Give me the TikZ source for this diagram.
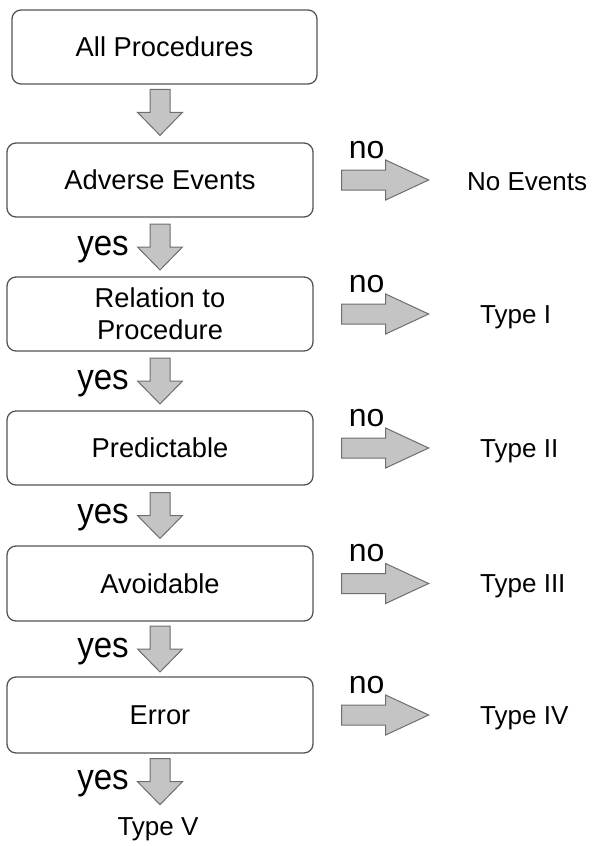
\documentclass[tikz,border=0pt]{standalone}
\usepackage{fontspec}
\setmainfont{Liberation Sans}
\usetikzlibrary{calc}
\definecolor{arrowfill}{HTML}{C4C4C4}
\definecolor{edgegray}{HTML}{555555}
\tikzset{
  box/.style={draw=edgegray, line width=1.3pt, rounded corners=9pt,
    minimum width=306pt, minimum height=74pt, inner sep=0pt, align=center,
    font=\fontsize{27.3}{32}\selectfont},
  lab/.style={font=\fontsize{26}{30}\selectfont, inner sep=0pt},
  yeslab/.style={font=\fontsize{36}{40}\selectfont, inner sep=0pt},
  nolab/.style={font=\fontsize{32}{36}\selectfont, inner sep=0pt},
  blk/.style={fill=arrowfill, draw=edgegray!85, line width=1pt, line join=miter},
  darrow/.pic={\draw[blk] (-10,-23) -- (10,-23) -- (10,0) -- (22.5,0) -- (0,23) -- (-22.5,0) -- (-10,0) -- cycle;},
  rarrow/.pic={\draw[blk] (0,-10) -- (44,-10) -- (44,-20) -- (87,0) -- (44,20) -- (44,10) -- (0,10) -- cycle;},
}
\begin{document}
\begin{tikzpicture}[x=1pt,y=-1pt]
\useasboundingbox (0,0) rectangle (592,846);
% boxes
\node[box, minimum width=305pt] (b1) at (164.5,47) {All Procedures};
\node[box] (b2) at (160,180) {Adverse Events};
\node[box] (b3) at (160,314) {Relation to\\Procedure};
\node[box] (b4) at (160,448) {Predictable};
\node[box, minimum height=75pt] (b5) at (160,583.5) {Avoidable};
\node[box, minimum height=76pt] (b6) at (160,715) {Error};
% down-arrow positions
\coordinate (a1) at ($(b2.north)+(0,-30)$);
\coordinate (a2) at ($(b2.south)!0.5!(b3.north)$);
\coordinate (a3) at ($(b3.south)!0.5!(b4.north)$);
\coordinate (a4) at ($(b4.south)!0.5!(b5.north)$);
\coordinate (a5) at ($(b5.south)!0.5!(b6.north)$);
\coordinate (a6) at ($(b6.south)+(0,28)$);
\foreach \a in {a1,a2,a3,a4,a5,a6} { \pic at (\a) {darrow}; }
% yes labels
\foreach \a in {a2,a3,a4,a5,a6} {
  \node[yeslab, anchor=base east] (yes-\a) at ($(\a)+(-31,8)$) {\scalebox{0.92}[1]{yes}};
}
% right arrows and no labels
\foreach \b in {b2,b3,b4,b5,b6} {
  \pic at ($(\b.east)+(28,0)$) {rarrow};
  \node[nolab, anchor=base west] (no-\b) at ($(\b.east)+(35,-22)$) {no};
}
% outcome labels
\node[lab, anchor=base west] (t0) at ($(b2.center)+(307,10)$) {No Events};
\node[lab, anchor=base west] (t1) at ($(b3.center)+(320,9)$) {Type I};
\node[lab, anchor=base west] (t2) at ($(b4.center)+(320,9)$) {Type II};
\node[lab, anchor=base west] (t3) at ($(b5.center)+(320,9)$) {Type III};
\node[lab, anchor=base west] (t4) at ($(b6.center)+(320,9)$) {Type IV};
\node[lab, anchor=base] (t5) at (158,835) {Type V};
\end{tikzpicture}
\end{document}
